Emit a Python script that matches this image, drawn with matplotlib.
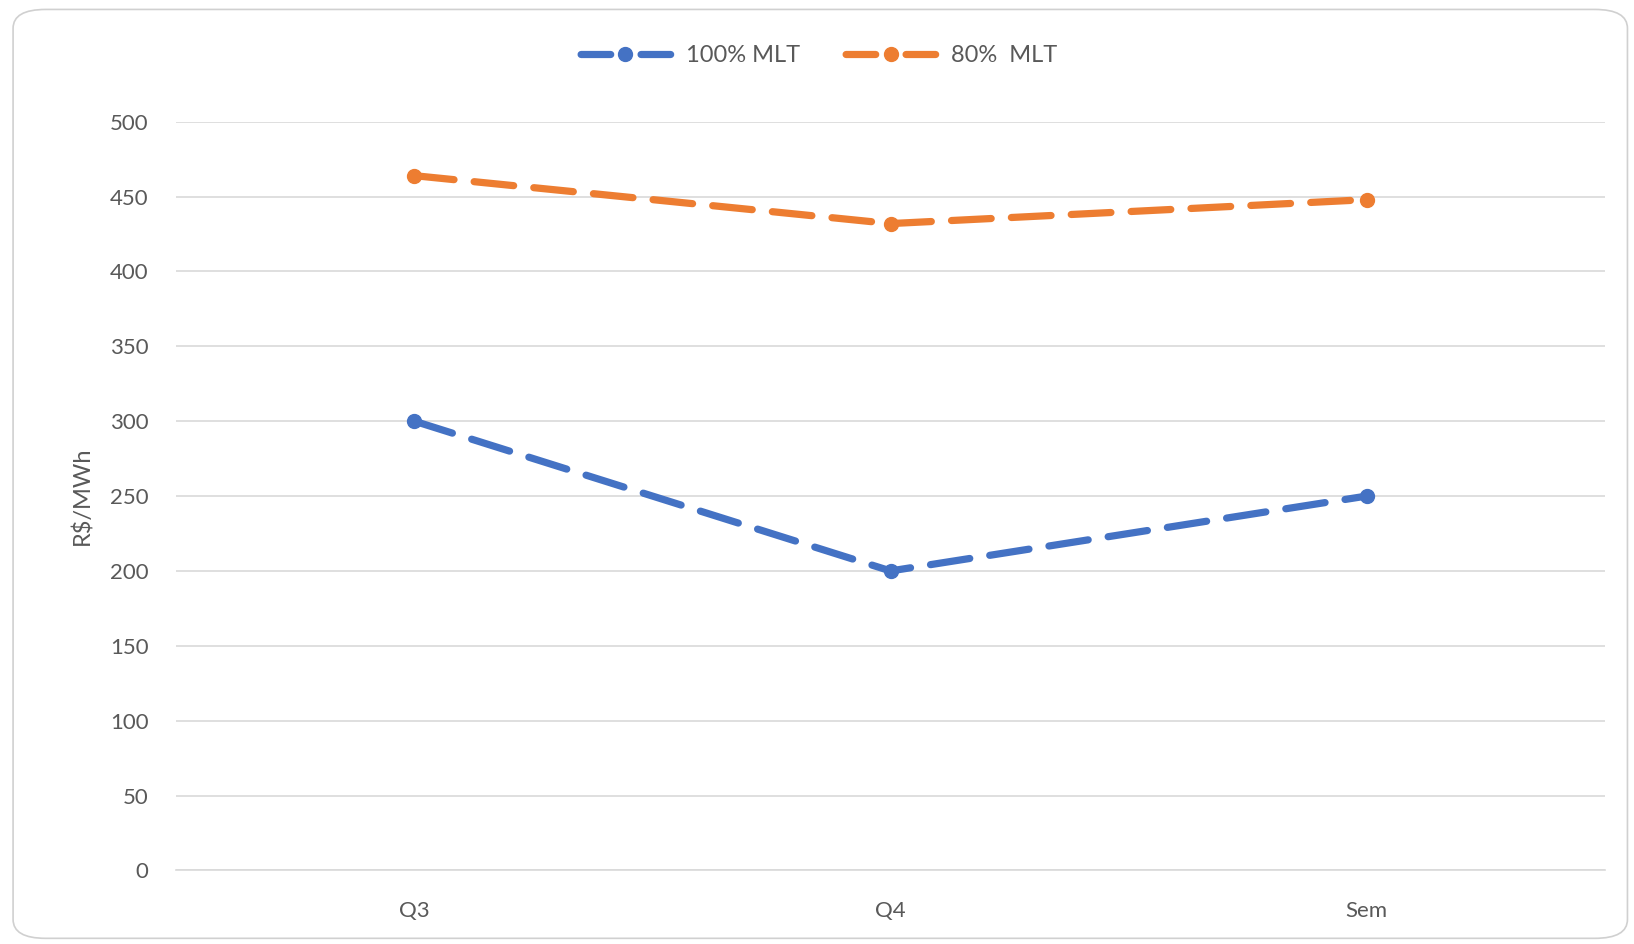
import matplotlib
matplotlib.use("Agg")
import matplotlib.pyplot as plt
from matplotlib.lines import Line2D
from matplotlib.patches import FancyBboxPatch

categories = ["Q3", "Q4", "Sem"]
mlt_100 = [300, 200, 250]
mlt_80 = [464, 432, 448]
series_labels = ["100% MLT", "80%  MLT"]
y_ticks = [0, 50, 100, 150, 200, 250, 300, 350, 400, 450, 500]

BLUE = "#4472C4"
ORANGE = "#ED7D31"
TEXT = "#595959"
GRID = "#D9D9D9"
LW = 5.2

plt.rcParams["font.family"] = ["Lato", "DejaVu Sans"]

fig = plt.figure(figsize=(16.34, 9.44), dpi=100)
fig.patch.set_facecolor("white")

# rounded chart frame, kept behind the axes
frame = FancyBboxPatch((0.008, 0.006), 0.988, 0.984,
                       boxstyle="round,pad=0,rounding_size=0.02",
                       transform=fig.transFigure, facecolor="white",
                       edgecolor="#D0D0D0", linewidth=1.2, zorder=-10)
fig.patches.append(frame)

ax = fig.add_axes([0.108, 0.078, 0.874, 0.793])
ax.set_facecolor("none")
ax.set_zorder(5)

x = list(range(len(categories)))
handles = []
for values, color, label in [(mlt_100, BLUE, series_labels[0]),
                             (mlt_80, ORANGE, series_labels[1])]:
    ax.plot(x, values, color=color, linewidth=LW, linestyle=(0, (5.5, 2.8)),
            marker="o", markersize=10, dash_capstyle="round", zorder=3)
    # legend sample: dash, dot, dash (gap centred on the marker)
    handles.append(Line2D([], [], color=color, linewidth=LW,
                          linestyle=(-0.5, (4.1, 4.2)),
                          dash_capstyle="round", marker="o", markersize=10,
                          label=label))

ax.set_xlim(-0.5, len(categories) - 0.5)
ax.set_ylim(0, 500)
ax.set_yticks(y_ticks)
ax.set_xticks(x)
ax.set_xticklabels(categories)
ax.tick_params(axis="both", length=0, labelsize=16, labelcolor=TEXT)
ax.tick_params(axis="y", pad=20)
ax.tick_params(axis="x", pad=22)
ax.grid(axis="y", color=GRID, linewidth=1.2)
ax.set_axisbelow(True)
for side in ["top", "right", "left"]:
    ax.spines[side].set_visible(False)
ax.spines["bottom"].set_color(GRID)
ax.spines["bottom"].set_linewidth(1.2)

ax.set_ylabel("R$/MWh", fontsize=17, color=TEXT, labelpad=12)

fig.legend(handles=handles, loc="center", bbox_to_anchor=(0.5, 0.941),
           ncol=2, frameon=False, fontsize=17, labelcolor=TEXT,
           handlelength=4.1, columnspacing=1.8, handletextpad=0.5,
           numpoints=1)

fig.savefig("out.png", dpi=100)
